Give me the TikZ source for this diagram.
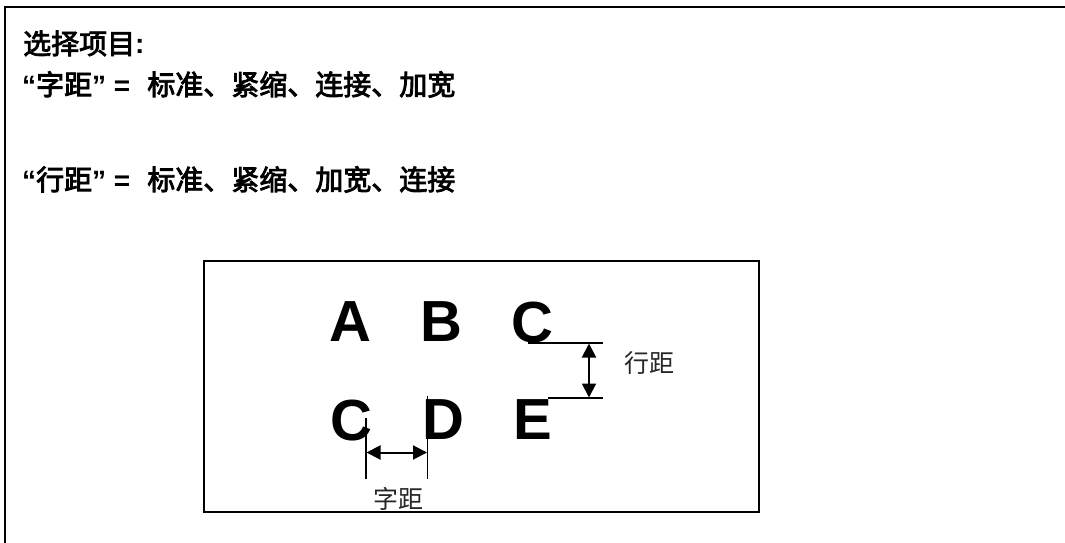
\documentclass[tikz,border=0pt]{standalone}
\usepackage{fontspec}
\newfontfamily\cjk{Noto Sans CJK SC}
\newfontfamily\cjkb{Noto Sans CJK SC}[FakeBold=3]
\newfontfamily\lat{Liberation Sans}
\usetikzlibrary{arrows.meta}
\begin{document}
\begin{tikzpicture}[x=1pt,y=-1pt,
  heading/.style={anchor=base west, inner sep=0pt, font=\cjkb\fontsize{28}{30}\selectfont},
  bigletter/.style={anchor=base, inner sep=0pt, font=\lat\bfseries\fontsize{58}{60}\selectfont},
  dimlabel/.style={inner sep=0pt, font=\cjk\fontsize{25}{28}\selectfont, text=black!85},
  dimline/.style={line width=1.1pt},
  dimarrow/.style={line width=2pt, {Triangle[length=14pt,width=14pt]}-{Triangle[length=14pt,width=14pt]}},
  outerframe/.style={line width=2pt},
  innerbox/.style={draw, line width=1.7pt, inner sep=0pt, anchor=north west}]
\useasboundingbox (0,0) rectangle (1065,543);
% outer frame (top and left only)
\coordinate (ftl) at (5,7);
\coordinate (ftr) at (1066,7);
\coordinate (fbl) at (5,544);
\draw[outerframe] (ftr) -- (ftl) -- (fbl);
% headings
\node[heading] (h1) at (23,54) {选择项目{\lat\bfseries :}};
\node[heading] (h2) at (22,95) {{\lat\bfseries “}字距{\lat\bfseries ” =}\hspace{17pt}标准、紧缩、连接、加宽};
\node[heading] (h3) at (22,190) {{\lat\bfseries “}行距{\lat\bfseries ” =}\hspace{17pt}标准、紧缩、加宽、连接};
% inner box
\node[innerbox, minimum width=555pt, minimum height=251pt] (box) at (203,260) {};
% letters
\node[bigletter] (A) at (350,341) {A};
\node[bigletter] (B) at (441,341) {B};
\node[bigletter] (C1) at (532,342) {C};
\node[bigletter] (C2) at (351,440) {C};
\node[bigletter] (D) at (443,439) {D};
\node[bigletter] (E) at (533,439) {E};
% line spacing dimension
\coordinate (la1) at (528,343);
\coordinate (lb1) at (603,343);
\coordinate (la2) at (548,398);
\coordinate (lb2) at (603,398);
\draw[dimline] (la1) -- (lb1);
\draw[dimline] (la2) -- (lb2);
\coordinate (va1) at (589,343.5);
\coordinate (va2) at (589,397.5);
\draw[dimarrow] (va1) -- (va2);
\node[dimlabel] (hj) at (649,363) {行距};
% character spacing dimension
\coordinate (cv1) at (366,418);
\coordinate (cv2) at (366,479);
\coordinate (dv1) at (427.5,396);
\coordinate (dv2) at (427.5,479);
\draw[dimline] (cv1) -- (cv2);
\draw[dimline] (dv1) -- (dv2);
\coordinate (ha1) at (366.5,452.5);
\coordinate (ha2) at (427,452.5);
\draw[dimarrow] (ha1) -- (ha2);
\node[dimlabel] (zj) at (398,499) {字距};
\end{tikzpicture}
\end{document}
